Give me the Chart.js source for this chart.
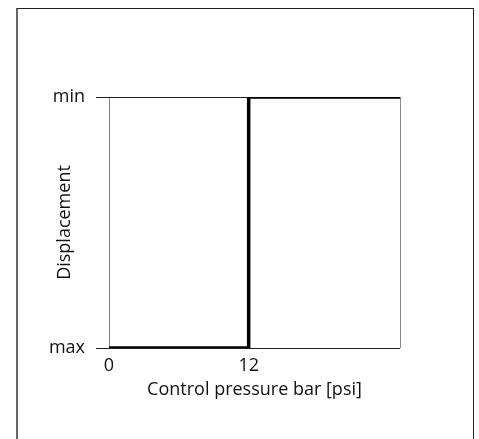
<!DOCTYPE html>
<html>
<head>
<meta charset="utf-8">
<script src="https://cdn.jsdelivr.net/npm/chart.js@4/dist/chart.umd.min.js"></script>
<style>
  body { margin: 0; background: #fff; }
  #wrap { position: relative; width: 479px; height: 439px; }
  #frame {
    position: absolute; left: 16px; top: 8px; width: 458px; height: 440px;
    border-left: 2px solid #666; border-top: 1px solid #222; border-right: 1px solid #222;
    box-sizing: border-box;
  }
  canvas { position: absolute; left: 0; top: 0; }
</style>
</head>
<body>
<div id="wrap">
  <div id="frame"></div>
  <canvas id="stepChart" width="479" height="439"></canvas>
</div>
<script>
// control pressure (bar) vs displacement level
var pressure = [0, 12, 12, 25];
var displacement = [0, 0, 1, 1];
var levelLabels = ["max", "min"];
var pressureTicks = [0, 12, 25];
var pressureLabels = ["0", "12", ""];

var FONT = "'Open Sans', 'DejaVu Sans', sans-serif";

function buildPoints() {
  var pts = [];
  for (var i = 0; i < pressure.length; i++) {
    pts.push({ x: pressure[i], y: displacement[i] });
  }
  return pts;
}

var ctx = document.getElementById("stepChart").getContext("2d");
new Chart(ctx, {
  type: "line",
  data: {
    datasets: [
      {
        data: buildPoints(),
        borderColor: "#000",
        borderWidth: 3.5,
        pointRadius: 0,
        tension: 0,
        fill: false,
        borderCapStyle: "square",
        borderJoinStyle: "miter",
      },
    ],
  },
  options: {
    responsive: false,
    animation: false,
    layout: { padding: { left: 30, right: 79, top: 97, bottom: 38 } },
    plugins: { legend: { display: false }, tooltip: { enabled: false } },
    scales: {
      x: {
        type: "linear",
        min: 0,
        max: 25,
        afterBuildTicks: function (axis) {
          axis.ticks = pressureTicks.map(function (v) { return { value: v }; });
        },
        afterFit: function (axis) { axis.height = 53; },
        ticks: {
          autoSkip: false,
          maxRotation: 0,
          padding: 7,
          color: "#111",
          font: { family: FONT, size: 18 },
          callback: function (v, i) { return pressureLabels[i]; },
        },
        grid: {
          drawTicks: false,
          lineWidth: 1,
          color: function (c) {
            return c.tick && c.tick.value === 12 ? "rgba(0,0,0,0)" : "#888";
          },
        },
        border: { display: false },
        title: {
          display: true,
          text: "Control pressure bar [psi]",
          color: "#111",
          font: { family: FONT, size: 18 },
          padding: { top: 4, bottom: 0 },
        },
      },
      y: {
        type: "linear",
        min: 0,
        max: 1,
        afterBuildTicks: function (axis) {
          axis.ticks = [{ value: 0 }, { value: 1 }];
        },
        afterFit: function (axis) { axis.width = 79; },
        ticks: {
          padding: 11,
          color: "#111",
          font: { family: FONT, size: 18 },
          callback: function (v, i) { return levelLabels[i]; },
        },
        grid: {
          color: "#222",
          lineWidth: 1,
          tickLength: 13,
        },
        border: { display: false },
        title: {
          display: true,
          text: "Displacement",
          color: "#111",
          font: { family: FONT, size: 18 },
          padding: { top: 24, bottom: 0 },
        },
      },
    },
  },
});
</script>
</body>
</html>
